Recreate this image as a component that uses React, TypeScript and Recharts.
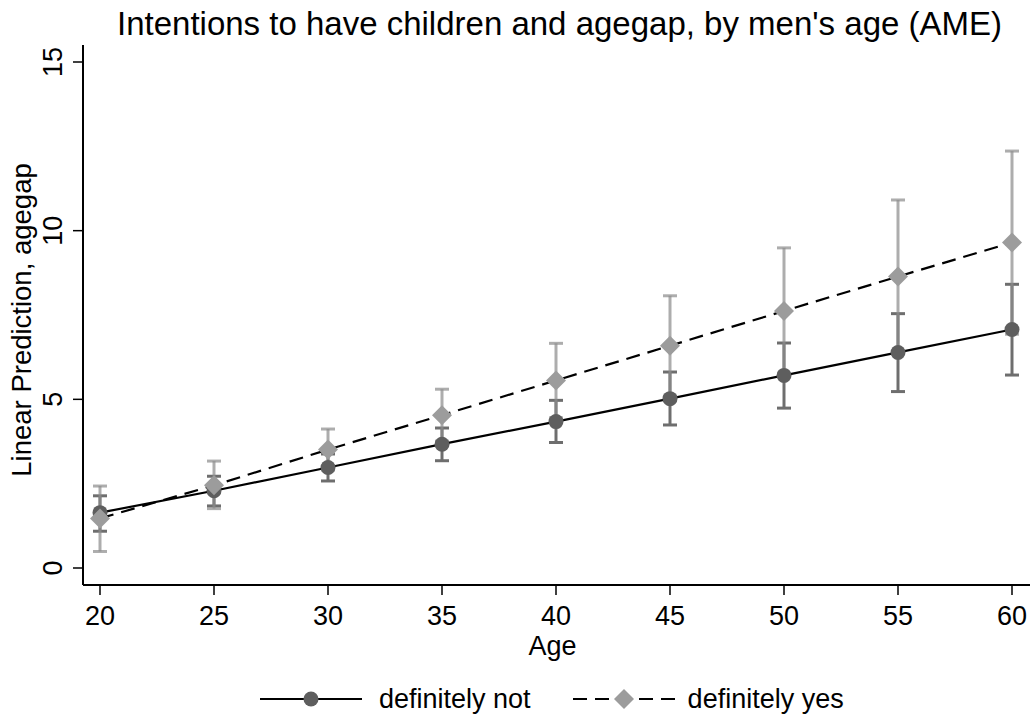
import { ComposedChart, Line, XAxis, YAxis, ErrorBar, Label } from 'recharts';

const ages = [20, 25, 30, 35, 40, 45, 50, 55, 60];

// "definitely not" (AME + 95% CI)
const notMean = [1.64, 2.29, 2.98, 3.67, 4.34, 5.02, 5.71, 6.39, 7.07];
const notLow = [1.09, 1.84, 2.58, 3.18, 3.72, 4.24, 4.74, 5.23, 5.72];
const notHigh = [2.14, 2.72, 3.38, 4.15, 4.97, 5.81, 6.67, 7.54, 8.41];

// "definitely yes"
const yesMean = [1.47, 2.45, 3.51, 4.53, 5.56, 6.59, 7.62, 8.64, 9.65];
const yesLow = [0.49, 1.76, 2.90, 3.76, 4.45, 5.10, 5.75, 6.37, 6.93];
const yesHigh = [2.43, 3.17, 4.12, 5.30, 6.66, 8.07, 9.49, 10.91, 12.36];

const xTicks = [20, 25, 30, 35, 40, 45, 50, 55, 60];
const yTicks = [0, 5, 10, 15];

const data = ages.map((age, i) => ({
    age,
    notMean: notMean[i],
    notErr: [notMean[i] - notLow[i], notHigh[i] - notMean[i]],
    yesMean: yesMean[i],
    yesErr: [yesMean[i] - yesLow[i], yesHigh[i] - yesMean[i]],
}));

const FONT = '"Liberation Sans", Arial, Helvetica, sans-serif';
const DARK = '#5e5e5e';
const LIGHT = '#9c9c9c';

const YTick = (props: any) => {
    const { x, y, payload } = props;
    const tx = x - 11;
    return (
        <text x={tx} y={y} transform={`rotate(-90 ${tx} ${y})`} textAnchor="middle" fontSize={27} fill="#000">
            {payload.value}
        </text>
    );
};

const Diamond = (props: any) => {
    const { cx, cy, index } = props;
    if (cx == null || cy == null) return <g key={`dm-${index}`} />;
    const r = 10;
    return (
        <path
            key={`dm-${index}`}
            d={`M${cx},${cy - r}L${cx + r},${cy}L${cx},${cy + r}L${cx - r},${cy}Z`}
            fill={LIGHT}
        />
    );
};

function App() {
    return (
        <div style={{ position: 'absolute', left: 0, top: 0, width: 1030, height: 717, background: '#fff', fontFamily: FONT }}>
            <div style={{ position: 'absolute', top: 7, left: 86, width: 947, textAlign: 'center', fontSize: 33, lineHeight: '33px', color: '#000', whiteSpace: 'nowrap' }}>
                Intentions to have children and agegap, by men's age (AME)
            </div>
            <ComposedChart width={1030} height={717} data={data} margin={{ top: 45, right: 0, left: 0, bottom: 0 }}>
                <XAxis
                    dataKey="age"
                    type="number"
                    domain={[20, 60]}
                    ticks={xTicks}
                    padding={{ left: 17, right: 18 }}
                    height={132}
                    tickSize={10}
                    tickMargin={11}
                    tick={{ fontSize: 27, fill: '#000' }}
                    axisLine={{ stroke: '#000', strokeWidth: 2 }}
                    tickLine={{ stroke: '#000', strokeWidth: 1.5 }}
                >
                    <Label
                        content={(p: any) => {
                            const vb = p.viewBox;
                            return (
                                <text x={vb.x + vb.width / 2 - 4} y={655} textAnchor="middle" fontSize={27} fill="#000">
                                    Age
                                </text>
                            );
                        }}
                    />
                </XAxis>
                <YAxis
                    type="number"
                    domain={[0, 15]}
                    ticks={yTicks}
                    padding={{ top: 17, bottom: 17 }}
                    width={83}
                    tickSize={10}
                    tickMargin={0}
                    tick={<YTick />}
                    axisLine={{ stroke: '#000', strokeWidth: 2 }}
                    tickLine={{ stroke: '#000', strokeWidth: 1.5 }}
                >
                    <Label
                        content={(p: any) => {
                            const vb = p.viewBox;
                            const cy = vb.y + vb.height / 2 + 5;
                            return (
                                <text x={31} y={cy} transform={`rotate(-90 31 ${cy})`} textAnchor="middle" fontSize={27.5} fill="#000">
                                    Linear Prediction, agegap
                                </text>
                            );
                        }}
                    />
                </YAxis>

                {/* confidence intervals first, under the lines */}
                <Line dataKey="notMean" stroke="none" dot={false} activeDot={false} isAnimationActive={false} legendType="none">
                    <ErrorBar dataKey="notErr" direction="y" width={7} strokeWidth={3} stroke="#6e6e6e" isAnimationActive={false} />
                </Line>
                <Line dataKey="yesMean" stroke="none" dot={false} activeDot={false} isAnimationActive={false} legendType="none">
                    <ErrorBar dataKey="yesErr" direction="y" width={7} strokeWidth={3} stroke="#8e8e8e" strokeOpacity={0.72} isAnimationActive={false} />
                </Line>

                <Line
                    dataKey="notMean"
                    type="linear"
                    stroke="#000"
                    strokeWidth={2.2}
                    dot={{ r: 7.5, fill: DARK, stroke: 'none' }}
                    activeDot={false}
                    isAnimationActive={false}
                />
                <Line
                    dataKey="yesMean"
                    type="linear"
                    stroke="#000"
                    strokeWidth={2.2}
                    strokeDasharray="14 8"
                    dot={<Diamond />}
                    activeDot={false}
                    isAnimationActive={false}
                />
            </ComposedChart>
            <div style={{ position: 'absolute', left: 260, top: 683, height: 32, display: 'flex', alignItems: 'center', fontSize: 27, color: '#000', whiteSpace: 'nowrap' }}>
                <svg width={102} height={32} style={{ display: 'block' }}>
                    <line x1={0} y1={16} x2={102} y2={16} stroke="#000" strokeWidth={2.2} />
                    <circle cx={51} cy={16} r={7.5} fill={DARK} />
                </svg>
                <span style={{ marginLeft: 17 }}>definitely not</span>
                <svg width={102} height={32} style={{ display: 'block', marginLeft: 42 }}>
                    <line x1={0} y1={16} x2={102} y2={16} stroke="#000" strokeWidth={2.2} strokeDasharray="14 8" />
                    <path d="M51,6L61,16L51,26L41,16Z" fill={LIGHT} />
                </svg>
                <span style={{ marginLeft: 13 }}>definitely yes</span>
            </div>
        </div>
    );
}

export default App;
